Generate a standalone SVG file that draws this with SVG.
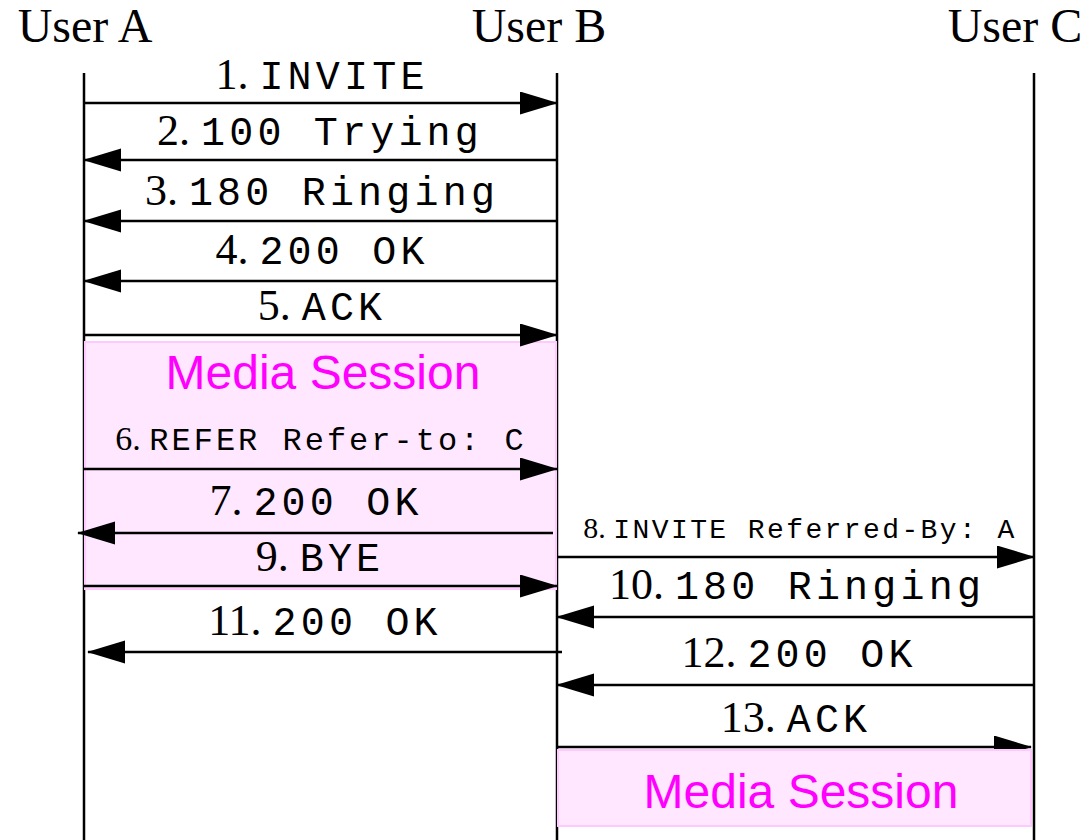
<svg xmlns="http://www.w3.org/2000/svg" width="1088" height="840" viewBox="0 0 1088 840">
<defs>
<marker id="ah" markerUnits="userSpaceOnUse" markerWidth="38" markerHeight="24" refX="37" refY="11.5" orient="auto">
<path d="M0,0 L38,11.5 L0,23 z" fill="#000"/>
</marker>
<style>
.title{font-family:"Liberation Serif",serif;font-size:48px;fill:#000}
.lifeline{stroke:#000;stroke-width:2.5;fill:none}
.msg{stroke:#000;stroke-width:2.5;fill:none;marker-end:url(#ah)}
.lbl{text-anchor:middle;fill:#000}
.num{font-family:"Liberation Serif",serif;font-size:44px}
.mono{font-family:"Liberation Mono",monospace;font-size:40px;letter-spacing:4.2px}
.num6{font-family:"Liberation Serif",serif;font-size:34px}
.mono6{font-family:"Liberation Mono",monospace;font-size:32px;letter-spacing:3px}
.num8{font-family:"Liberation Serif",serif;font-size:30px}
.mono8{font-family:"Liberation Mono",monospace;font-size:28px;letter-spacing:2.4px}
.media{fill:#ffe8ff;stroke:#ffc8ff;stroke-width:2}
.mediatxt{font-family:"Liberation Sans",Arial,sans-serif;font-size:48px;fill:#ff00ff;text-anchor:middle}
</style>
</defs>
<rect width="1088" height="840" fill="#fff"/>
<g id="userA">
<text class="title" x="85" y="42" text-anchor="middle">User A</text>
<line class="lifeline" x1="84" y1="73" x2="84" y2="840"/>
</g>
<g id="userB">
<text class="title" x="539" y="42" text-anchor="middle">User B</text>
<line class="lifeline" x1="557" y1="73" x2="557" y2="840"/>
</g>
<g id="userC">
<text class="title" x="1015" y="42" text-anchor="middle">User C</text>
<line class="lifeline" x1="1034" y1="73" x2="1034" y2="840"/>
</g>
<g id="media1">
<rect class="media" x="85" y="342" width="471" height="247"/>
<text class="mediatxt" x="323" y="389">Media Session</text>
</g>
<g id="connectors">
<line class="msg" x1="84" y1="103" x2="557" y2="103"/>
<text class="lbl" x="322" y="89"><tspan class="num">1. </tspan><tspan class="mono">INVITE</tspan></text>
<line class="msg" x1="557" y1="160" x2="84" y2="160"/>
<text class="lbl" x="320" y="145"><tspan class="num">2. </tspan><tspan class="mono">100 Trying</tspan></text>
<line class="msg" x1="557" y1="221" x2="84" y2="221"/>
<text class="lbl" x="322" y="205"><tspan class="num">3. </tspan><tspan class="mono">180 Ringing</tspan></text>
<line class="msg" x1="557" y1="281" x2="84" y2="281"/>
<text class="lbl" x="322" y="264"><tspan class="num">4. </tspan><tspan class="mono">200 OK</tspan></text>
<line class="msg" x1="84" y1="335" x2="557" y2="335"/>
<text class="lbl" x="322" y="320"><tspan class="num">5. </tspan><tspan class="mono">ACK</tspan></text>
<line class="msg" x1="84" y1="469" x2="557" y2="469"/>
<text class="lbl" x="321" y="450"><tspan class="num6">6. </tspan><tspan class="mono6">REFER Refer-to: C</tspan></text>
<line class="msg" x1="553" y1="533" x2="78" y2="533"/>
<text class="lbl" x="316" y="515"><tspan class="num">7. </tspan><tspan class="mono">200 OK</tspan></text>
<line class="msg" x1="84" y1="586" x2="557" y2="586"/>
<text class="lbl" x="320" y="571"><tspan class="num">9. </tspan><tspan class="mono">BYE</tspan></text>
<line class="msg" x1="557" y1="557" x2="1034" y2="557"/>
<text class="lbl" x="800" y="538"><tspan class="num8">8. </tspan><tspan class="mono8">INVITE Referred-By: A</tspan></text>
<line class="msg" x1="1034" y1="617" x2="557" y2="617"/>
<text class="lbl" x="797" y="599"><tspan class="num">10. </tspan><tspan class="mono">180 Ringing</tspan></text>
<line class="msg" x1="562" y1="652" x2="88" y2="652"/>
<text class="lbl" x="325" y="635"><tspan class="num">11. </tspan><tspan class="mono">200 OK</tspan></text>
<line class="msg" x1="1034" y1="685" x2="557" y2="685"/>
<text class="lbl" x="799" y="667"><tspan class="num">12. </tspan><tspan class="mono">200 OK</tspan></text>
<line class="msg" x1="557" y1="747" x2="1031" y2="747"/>
<text class="lbl" x="796" y="732"><tspan class="num">13. </tspan><tspan class="mono">ACK</tspan></text>
</g>
<g id="media2">
<rect class="media" x="558" y="750" width="473" height="76"/>
<text class="mediatxt" x="801" y="808">Media Session</text>
</g>
</svg>
